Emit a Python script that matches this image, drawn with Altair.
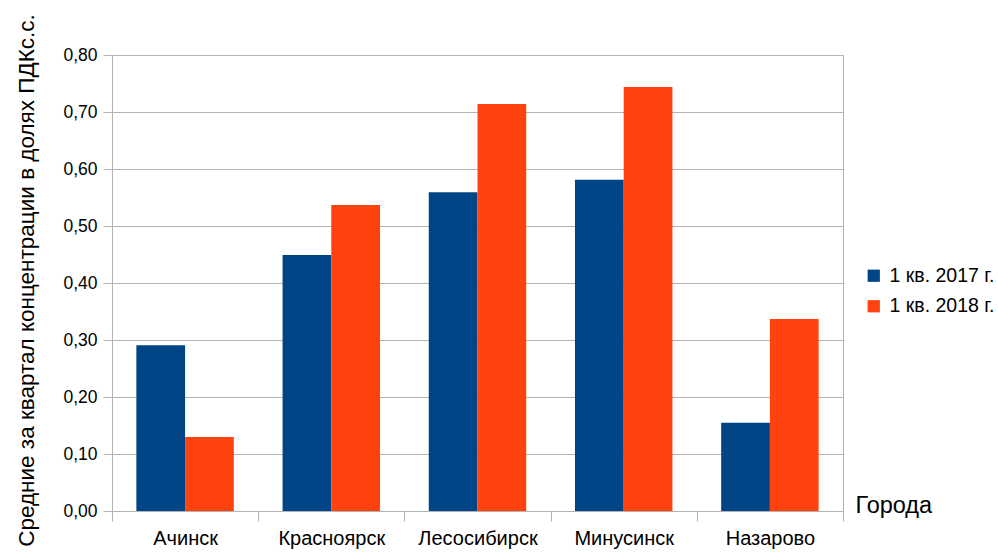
import altair as alt
import pandas as pd

cities = ["Ачинск", "Красноярск", "Лесосибирск", "Минусинск", "Назарово"]
series_names = ["1 кв. 2017 г.", "1 кв. 2018 г."]
values_2017 = [0.291, 0.449, 0.559, 0.581, 0.155]
values_2018 = [0.130, 0.537, 0.714, 0.744, 0.337]
colors = ["#004586", "#ff420e"]
y_ticks = [0.0, 0.1, 0.2, 0.3, 0.4, 0.5, 0.6, 0.7, 0.8]

rows = []
for name, vals in zip(series_names, [values_2017, values_2018]):
    for c, v in zip(cities, vals):
        rows.append({"city": c, "series": name, "value": v})
df = pd.DataFrame(rows)

FONT = "Liberation Sans"
GRID = "#b3b3b3"

chart = alt.Chart(df).mark_bar().encode(
    x=alt.X("city:N", sort=cities,
            scale=alt.Scale(paddingInner=0, paddingOuter=0),
            axis=alt.Axis(title="Города", tickBand="extent", labelAngle=0,
                          tickSize=10, tickColor=GRID, domainColor=GRID,
                          labelFontSize=20, labelFont=FONT, labelColor="#000000",
                          labelPadding=7,
                          titleFont=FONT, titleFontSize=23.5, titleFontWeight="normal",
                          titleColor="#000000",
                          titleX=743, titleY=1, titleAlign="left",
                          titleBaseline="alphabetic", titleAnchor="start")),
    xOffset=alt.XOffset("series:N", sort=series_names,
                        scale=alt.Scale(paddingOuter=0.5, paddingInner=0)),
    y=alt.Y("value:Q",
            scale=alt.Scale(domain=[0, 0.8], nice=False),
            axis=alt.Axis(title="Средние за квартал концентрации в долях ПДКс.с.",
                          values=y_ticks,
                          labelExpr="replace(format(datum.value, '.2f'), '.', ',')",
                          tickSize=9, tickColor=GRID, domainColor=GRID,
                          gridColor=GRID, grid=True,
                          labelFontSize=17.5, labelFont=FONT, labelColor="#000000",
                          labelPadding=6,
                          titleFont=FONT, titleFontSize=22.5, titleFontWeight="normal",
                          titleColor="#000000",
                          titleX=-79, titleY=225, titleAlign="center",
                          titleBaseline="alphabetic", titleAngle=270)),
    color=alt.Color("series:N", sort=series_names,
                    scale=alt.Scale(domain=series_names, range=colors),
                    legend=alt.Legend(title=None, orient="none",
                                      legendX=752, legendY=211,
                                      symbolType="square", symbolSize=150,
                                      symbolStrokeWidth=0,
                                      labelFont=FONT, labelFontSize=19.5,
                                      labelColor="#000000", rowPadding=9.5,
                                      labelOffset=6)),
).properties(
    width=731,
    height=456,
    autosize=alt.AutoSizeParams(type="none"),
    padding={"left": 112, "top": 55, "right": 155, "bottom": 46},
).configure_view(
    stroke=GRID, strokeWidth=1
)

chart.save("out.html", embed_options={"renderer": "svg", "actions": False})
